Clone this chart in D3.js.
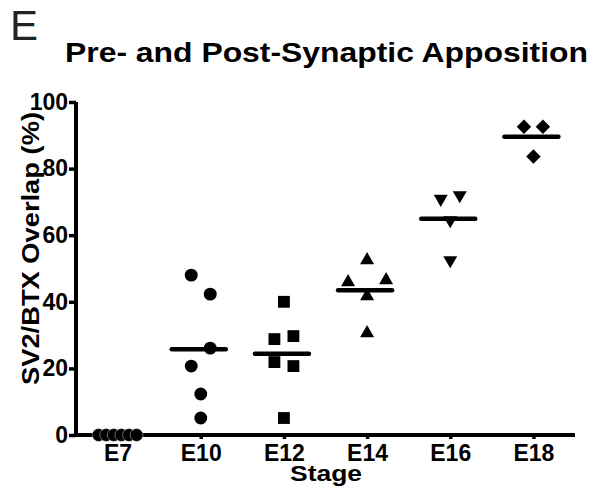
<!DOCTYPE html>
<meta charset="utf-8">
<style>
    body { margin: 0; background: #fff; }
    text { font-family: "Liberation Sans", Arial, sans-serif; fill: #000; }
</style>
<script src="https://cdn.jsdelivr.net/npm/d3@7/dist/d3.min.js"></script>
<body>
<script>
var stages = ["E7", "E10", "E12", "E14", "E16", "E18"];
var yTicks = [0, 20, 40, 60, 80, 100];

// overlap values (%), one list per stage
var e7  = [0, 0, 0, 0, 0, 0];
var e10 = [48.0, 42.3, 26.1, 20.7, 12.3, 5.1];
var e12 = [40.0, 29.7, 28.8, 21.9, 20.7, 5.1];
var e14 = [52.5, 46.5, 45.9, 41.7, 30.6];
var e16 = [72.0, 70.9, 64.5, 52.5];
var e18 = [92.6, 92.6, 83.6];

// scatter column of each point inside its stage (GraphPad style spreading)
var e7Lanes  = [-2, -1.2, -0.4, 0.4, 1.2, 2];
var e10Lanes = [-1, 1, 1, -1, 0, 0];
var e12Lanes = [0, 1, -1, -1, 1, 0];
var e14Lanes = [0, 2, -2, 0, 0];
var e16Lanes = [1, -1, 0, 0];
var e18Lanes = [-1, 1, 0];

var groups = [
    {stage: "E7",  values: e7,  lanes: e7Lanes,  shape: "circle"},
    {stage: "E10", values: e10, lanes: e10Lanes, shape: "circle"},
    {stage: "E12", values: e12, lanes: e12Lanes, shape: "square"},
    {stage: "E14", values: e14, lanes: e14Lanes, shape: "up"},
    {stage: "E16", values: e16, lanes: e16Lanes, shape: "down"},
    {stage: "E18", values: e18, lanes: e18Lanes, shape: "diamond"}
];

var width = 604, height = 489;
var svg = d3.select("body").append("svg")
    .attr("width", width)
    .attr("height", height);

var x = d3.scalePoint().domain(stages).range([76, 575]).padding(0.5);
var y = d3.scaleLinear().domain([0, 100]).range([435, 102]);
var lane = d3.scaleLinear().domain([-1, 1]).range([-9.5, 9.5]);

// panel letter + title
svg.append("text")
    .attr("x", 10).attr("y", 40)
    .style("font-size", "42px")
    .style("fill", "#222")
    .text("E");

svg.append("text")
    .attr("x", 65).attr("y", 62)
    .attr("textLength", 523)
    .attr("lengthAdjust", "spacingAndGlyphs")
    .style("font-size", "28px")
    .style("font-weight", "bold")
    .text("Pre- and Post-Synaptic Apposition");

// axes
var yAxis = svg.append("g")
    .attr("transform", "translate(76,0)")
    .call(d3.axisLeft(y).tickValues(yTicks).tickSize(7).tickPadding(1));
var xAxis = svg.append("g")
    .attr("transform", "translate(0,435)")
    .call(d3.axisBottom(x).tickSize(4).tickPadding(5));

yAxis.select(".domain").attr("d", "M0," + y(100) + "V" + y(0));
xAxis.select(".domain").attr("d", "M76,0H575");
svg.selectAll(".domain").attr("stroke", "#000").attr("stroke-width", 4);
svg.selectAll(".tick line").attr("stroke", "#000").attr("stroke-width", 3.5);
svg.selectAll(".tick text")
    .style("font-size", "23px")
    .style("font-weight", "bold")
    .attr("fill", "#000")
    .style("font-family", "'Liberation Sans', Arial, sans-serif");
xAxis.selectAll(".tick text").attr("dy", "0.72em");

// axis titles
svg.append("text")
    .attr("x", 290).attr("y", 481)
    .attr("textLength", 72)
    .attr("lengthAdjust", "spacingAndGlyphs")
    .style("font-size", "22px")
    .style("font-weight", "bold")
    .text("Stage");

svg.append("text")
    .attr("transform", "translate(39,385) rotate(-90)")
    .attr("textLength", 273)
    .attr("lengthAdjust", "spacingAndGlyphs")
    .style("font-size", "24px")
    .style("font-weight", "bold")
    .text("SV2/BTX Overlap (%)");

// markers
var symbols = {
    circle:  {type: d3.symbolCircle, size: 130, rotate: 0},
    square:  {type: d3.symbolSquare, size: 140, rotate: 0},
    up:      {type: d3.symbolTriangle, size: 85, rotate: 0},
    down:    {type: d3.symbolTriangle, size: 85, rotate: 180},
    diamond: {type: d3.symbolSquare, size: 105, rotate: 45}
};

var points = [];
groups.forEach(function(g) {
    g.values.forEach(function(v, i) {
        points.push({stage: g.stage, value: v, lane: g.lanes[i], shape: g.shape});
    });
});

// mean lines
svg.selectAll(".mean")
    .data(groups.filter(function(g) { return d3.mean(g.values) > 0; }))
    .enter()
    .append("line")
    .attr("class", "mean")
    .attr("x1", function(d) { return x(d.stage) - 29; })
    .attr("x2", function(d) { return x(d.stage) + 25; })
    .attr("y1", function(d) { return y(d3.mean(d.values)); })
    .attr("y2", function(d) { return y(d3.mean(d.values)); })
    .attr("stroke", "#000")
    .attr("stroke-width", 4.5)
    .attr("stroke-linecap", "round");

svg.selectAll(".pt")
    .data(points)
    .enter()
    .append("path")
    .attr("class", "pt")
    .attr("d", function(d) {
        var s = symbols[d.shape];
        return d3.symbol().type(s.type).size(s.size)();
    })
    .attr("transform", function(d) {
        var s = symbols[d.shape];
        return "translate(" + (x(d.stage) + lane(d.lane)) + "," + y(d.value) + ") rotate(" + s.rotate + ")";
    })
    .attr("fill", "#000")
    .attr("stroke", function(d) { return d.value === 0 ? "#fff" : "none"; })
    .attr("stroke-width", 0.4);
</script>
</body>
